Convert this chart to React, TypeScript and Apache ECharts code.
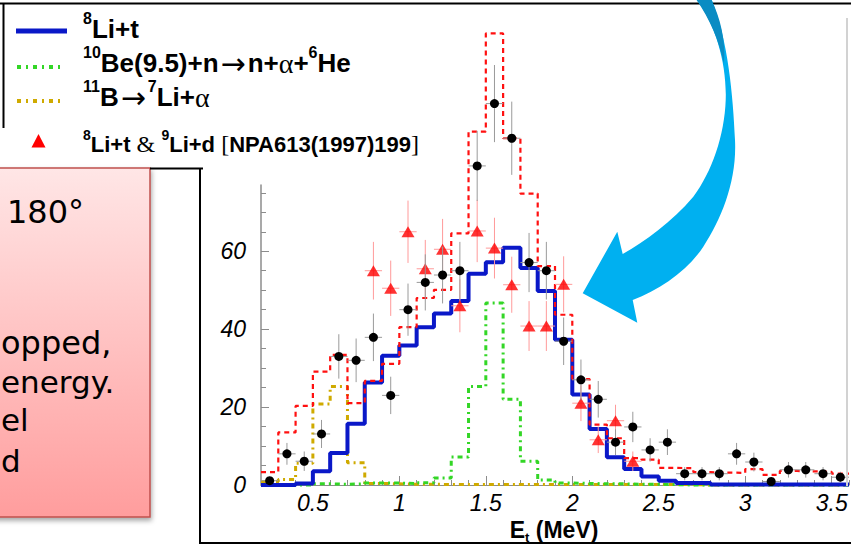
import React, { useEffect, useRef } from "react";
import * as echarts from "echarts";

// ---- data ----
const energy = [0.25, 0.35, 0.45, 0.55, 0.65, 0.75, 0.85, 0.95, 1.05, 1.15, 1.25, 1.35, 1.45, 1.55, 1.65, 1.75, 1.85, 1.95, 2.05, 2.15, 2.25, 2.35, 2.45, 2.55, 2.65, 2.75, 2.85, 2.95, 3.05, 3.15, 3.25, 3.35, 3.45, 3.55];
const fitTotal = [3.3, 13.5, 20.3, 29.1, 33.4, 21.0, 26.7, 31.1, 40.5, 48.0, 50.1, 64.6, 90.7, 115.9, 89.0, 74.8, 56.2, 43.7, 27.2, 15.5, 12.0, 6.9, 6.5, 4.4, 4.3, 3.3, 3.2, 3.1, 4.1, 2.6, 3.6, 3.5, 3.4, 2.9];
const li8t = [0, 0, 0.4, 3.5, 8.2, 15.7, 26.3, 33.2, 35.8, 40.5, 44.0, 47.2, 54.2, 57.2, 60.9, 55.7, 49.8, 37.3, 23.2, 14.4, 7.1, 4.1, 2.2, 1.1, 0.5, 0.5, 0.1, 0.1, 0.1, 0.1, 0.1, 0.1, 0.1, 0.1];
const be10 = [0, 0, 0, 0.3, 0.2, 0.3, 0.5, 0.5, 0.4, 0.6, 1.8, 7.2, 25.3, 46.7, 22.0, 6.1, 1.3, 0.5, 0.4, 0.3, 0.3, 0.2, 0.2, 0.1, 0, 0, 0, 0, 0, 0, 0, 0, 0, 0];
const b11 = [0.9, 1.4, 5.6, 20.8, 25.3, 5.7, 0.4, 0.3, 0.2, 0.2, 0.1, 0.1, 0.1, 0.1, 0.1, 0.1, 0.1, 0.1, 0.1, 0.1, 0.1, 0.1, 0.1, 0.1, 0.1, 0, 0, 0, 0, 0, 0, 0, 0, 0];
const dataCounts = [1.1, 8.0, 6.1, 13.1, 33.0, 32.0, 37.9, 23.0, 45.0, 52.0, 53.9, 55.0, 81.9, 97.9, 89.0, 57.1, 55.0, 36.9, 27.0, 22.0, 11.0, 14.9, 9.0, 11.0, 2.9, 2.9, 2.9, 8.0, 5.9, 0.9, 3.9, 3.9, 2.9, 2.0];
const dataErr = [1.0, 2.8, 2.5, 3.6, 5.7, 5.6, 6.1, 4.8, 6.7, 7.2, 7.3, 7.4, 9.0, 9.9, 9.4, 7.6, 7.4, 6.1, 5.2, 4.7, 3.3, 3.9, 3.0, 3.3, 1.7, 1.7, 1.7, 2.8, 2.4, 1.0, 2.0, 2.0, 1.7, 1.4];
const refEnergy = [0.85, 0.95, 1.05, 1.15, 1.25, 1.35, 1.45, 1.55, 1.65, 1.75, 1.85, 1.95, 2.05, 2.15, 2.25, 2.35];
const refCounts = [55.0, 50.5, 65.0, 55.5, 60.5, 46.0, 65.2, 60.8, 51.4, 40.8, 40.8, 51.5, 21.0, 11.6, 16.5, 6.1];
const refErr = [7.4, 7.1, 8.0, 7.4, 7.8, 6.8, 8.0, 7.8, 7.2, 6.4, 6.4, 7.2, 4.6, 3.4, 4.1, 2.5];
const xTickLabels = [0.5, 1, 1.5, 2, 2.5, 3, 3.5];
const xMinorTicks = [0.2, 0.3, 0.4, 0.5, 0.6, 0.7, 0.8, 0.9, 1.0, 1.1, 1.2, 1.3, 1.4, 1.5, 1.6, 1.7, 1.8, 1.9, 2.0, 2.1, 2.2, 2.3, 2.4, 2.5, 2.6, 2.7, 2.8, 2.9, 3.0, 3.1, 3.2, 3.3, 3.4, 3.5, 3.6];
const yTickLabels = [0, 20, 40, 60];
const yMinorTicks = [0, 5, 10, 15, 20, 25, 30, 35, 40, 45, 50, 55, 60, 65, 70, 75];
const BIN = 0.1;

const ARROW_D =
  "M 696.7 0 C 716 25 727 65 725.7 100 C 724.5 135 712 172 693.3 196.7 C 672 222 645 241 622.7 254 " +
  "L 617.3 231.7 L 582.7 293.3 L 637.3 322.7 L 632.7 300 " +
  "C 660 290 688 270 703.3 246.7 C 722 218 737 180 735 140 C 733 95 728 40 711.7 0 Z";
const ARROW_DARK_D = "M 696.7 0 C 710 20 719 40 724 64 C 726 40 720 18 711.7 0 Z";
echarts.graphic.registerShape("cyanArrow", echarts.graphic.extendPath(ARROW_D, {}));
echarts.graphic.registerShape("cyanArrowDark", echarts.graphic.extendPath(ARROW_DARK_D, {}));

function stepData(vals: number[]) {
  const pts = energy.map((e, i) => [e - BIN / 2, vals[i]]);
  pts.push([energy[energy.length - 1] + BIN / 2, vals[vals.length - 1]]);
  return pts;
}

function errorSeries(xs: number[], ys: number[], errs: number[], color: string, z: number) {
  return {
    type: "custom",
    clip: false,
    z,
    silent: true,
    data: xs.map((x, i) => [x, ys[i], errs[i]]),
    renderItem: (_p: any, api: any) => {
      const x = api.value(0);
      const y = api.value(1);
      const e = api.value(2);
      const top = api.coord([x, y + e]);
      const bot = api.coord([x, Math.max(0, y - e)]);
      const l = api.coord([x - BIN / 2, y]);
      const r = api.coord([x + BIN / 2, y]);
      return {
        type: "group",
        children: [
          { type: "line", shape: { x1: top[0], y1: top[1], x2: bot[0], y2: bot[1] }, style: { stroke: color, lineWidth: 1 } },
          { type: "line", shape: { x1: l[0], y1: l[1], x2: r[0], y2: r[1] }, style: { stroke: color, lineWidth: 1 } },
        ],
      };
    },
  };
}

const SANS = "'Liberation Sans', Arial, Helvetica, sans-serif";
const SERIF = "'Liberation Serif', 'Times New Roman', serif";
const ARROWFONT = "'DejaVu Sans', sans-serif";
const COMIC = "'DejaVu Sans', sans-serif";

function legendRich(size: number, lh: number, arrow: number) {
  return {
    b: { fontFamily: SANS, fontWeight: "bold", fontSize: size, lineHeight: lh, fill: "#000", verticalAlign: "middle" },
    s: { fontFamily: SANS, fontWeight: "bold", fontSize: Math.round(size * 0.62), lineHeight: Math.round(size * 0.62), fill: "#000", verticalAlign: "top" },
    y: { fontFamily: SERIF, fontWeight: "normal", fontSize: size + 2, lineHeight: lh, fill: "#000", verticalAlign: "middle" },
    a: { fontFamily: ARROWFONT, fontWeight: "normal", fontSize: arrow, lineHeight: lh, fill: "#000", verticalAlign: "middle", padding: [0, 2, 0, 2] },
  };
}

export default function App() {
  const ref = useRef<HTMLDivElement>(null);
  useEffect(() => {
    if (!ref.current) return;
    const chart = echarts.init(ref.current, undefined, { renderer: "svg" });
    const axisGray = "#8c8c8c";
    const option: any = {
      animation: false,
      backgroundColor: "#ffffff",
      grid: { left: 261, right: 2, top: 185, bottom: 61, containLabel: false },
      xAxis: [
        {
          type: "value", min: 0.2, max: 3.6, position: "bottom", offset: 0,
          axisLine: { show: true, lineStyle: { color: axisGray, width: 1 } },
          axisTick: { show: true, inside: true, length: 9, customValues: xTickLabels, lineStyle: { color: axisGray } },
          axisLabel: {
            show: true, customValues: xTickLabels, margin: 6,
            fontFamily: SANS, fontStyle: "italic", fontSize: 23, color: "#000",
            formatter: (v: number) => String(v),
          },
          splitLine: { show: false },
        },
        {
          type: "value", min: 0.2, max: 3.6, position: "bottom", offset: 0,
          axisLine: { show: false },
          axisTick: { show: true, inside: true, length: 5, customValues: xMinorTicks, lineStyle: { color: axisGray } },
          axisLabel: { show: false },
          splitLine: { show: false },
        },
      ],
      yAxis: [
        {
          type: "value", min: 0, max: 77, position: "left", offset: 0,
          axisLine: { show: true, lineStyle: { color: axisGray, width: 1.5 } },
          axisTick: { show: true, inside: true, length: 8, customValues: yTickLabels, lineStyle: { color: axisGray } },
          axisLabel: {
            show: true, customValues: yTickLabels, margin: 15,
            fontFamily: SANS, fontStyle: "italic", fontSize: 23, color: "#000",
          },
          splitLine: { show: false },
        },
        {
          type: "value", min: 0, max: 77, position: "left", offset: 0,
          axisLine: { show: false },
          axisTick: { show: true, inside: true, length: 5, customValues: yMinorTicks, lineStyle: { color: axisGray } },
          axisLabel: { show: false },
          splitLine: { show: false },
        },
      ],
      series: [
        { name: "11B", type: "line", step: "end", symbol: "none", clip: false, z: 3, silent: true, data: stepData(b11),
          lineStyle: { color: "#cfaa00", width: 3, type: [5, 4, 2, 4] } },
        { name: "10Be", type: "line", step: "end", symbol: "none", clip: false, z: 3, silent: true, data: stepData(be10),
          lineStyle: { color: "#33d626", width: 3, type: [5, 4, 2, 4] } },
        { name: "8Li+t", type: "line", step: "end", symbol: "none", clip: false, z: 4, silent: true, data: stepData(li8t),
          lineStyle: { color: "#0a18c8", width: 4 } },
        { name: "total", type: "line", step: "end", symbol: "none", clip: false, z: 5, silent: true, data: stepData(fitTotal),
          lineStyle: { color: "#ff1010", width: 2.2, type: [5, 4] } },
        errorSeries(refEnergy, refCounts, refErr, "#ff9a9a", 6),
        { name: "NPA613", type: "scatter", symbol: "triangle", symbolSize: [13, 11], clip: false, z: 7, silent: true,
          data: refEnergy.map((e, i) => [e, refCounts[i]]), itemStyle: { color: "#ff0000" } },
        errorSeries(energy, dataCounts, dataErr, "#9a9a9a", 8),
        { name: "data", type: "scatter", symbol: "circle", symbolSize: 9, clip: false, z: 9, silent: true,
          data: energy.map((e, i) => [e, dataCounts[i]]), itemStyle: { color: "#000", opacity: 1 } },
      ],
      graphic: {
        elements: [
          // frame pieces
          { type: "line", z: 50, shape: { x1: 0, y1: 3.5, x2: 851, y2: 3.5 }, style: { stroke: "#000", lineWidth: 2 } },
          { type: "line", z: 50, shape: { x1: 3.5, y1: 3, x2: 3.5, y2: 128 }, style: { stroke: "#000", lineWidth: 2 } },
          { type: "line", z: 50, shape: { x1: 847, y1: 18, x2: 847, y2: 486 }, style: { stroke: "#d2d2d2", lineWidth: 2 } },
          { type: "line", z: 50, shape: { x1: 150, y1: 168.5, x2: 203, y2: 168.5 }, style: { stroke: "#000", lineWidth: 2 } },
          { type: "line", z: 50, shape: { x1: 200, y1: 168, x2: 200, y2: 543 }, style: { stroke: "#000", lineWidth: 2 } },
          { type: "line", z: 50, shape: { x1: 199, y1: 543, x2: 851, y2: 543 }, style: { stroke: "#000", lineWidth: 2 } },
          // legend samples
          { type: "line", z: 50, shape: { x1: 16, y1: 31, x2: 67, y2: 31 }, style: { stroke: "#0a18c8", lineWidth: 5 } },
          { type: "line", z: 50, shape: { x1: 17, y1: 67, x2: 62, y2: 67 }, style: { stroke: "#33d626", lineWidth: 4, lineDash: [4, 5, 2, 5] } },
          { type: "line", z: 50, shape: { x1: 17, y1: 101, x2: 62, y2: 101 }, style: { stroke: "#cfaa00", lineWidth: 4, lineDash: [4, 5, 2, 5] } },
          { type: "polygon", z: 50, shape: { points: [[31.5, 147.5], [45.5, 147.5], [38.5, 134]] }, style: { fill: "#ff0000" } },
          // legend texts
          { type: "text", z: 50, x: 83, y: 29, style: { text: "{s|8}{b|Li+t}", rich: legendRich(26, 38, 30), verticalAlign: "middle", align: "left" } },
          { type: "text", z: 50, x: 83, y: 63, style: { text: "{s|10}{b|Be(9.5)+n}{a|→}{b|n+}{y|α}{b|+}{s|6}{b|He}", rich: legendRich(26, 38, 30), verticalAlign: "middle", align: "left" } },
          { type: "text", z: 50, x: 83, y: 97, style: { text: "{s|11}{b|B}{a|→}{s|7}{b|Li+}{y|α}", rich: legendRich(26, 38, 30), verticalAlign: "middle", align: "left" } },
          { type: "text", z: 50, x: 83, y: 144, style: { text: "{s|8}{b|Li+t }{y|&}{b| }{s|9}{b|Li+d }{y|[}{b|NPA613(1997)199}{y|]}", rich: legendRich(22, 32, 24), verticalAlign: "middle", align: "left" } },
          // pink note box
          {
            type: "rect", z: 40, shape: { x: -6, y: 168, width: 156, height: 349 },
            style: {
              fill: new echarts.graphic.LinearGradient(0, 0, 0, 1, [
                { offset: 0, color: "#ffe6e6" },
                { offset: 1, color: "#ff9d9d" },
              ]),
              stroke: "#c0504d", lineWidth: 1.5,
              shadowBlur: 5, shadowOffsetX: 1, shadowOffsetY: 3, shadowColor: "rgba(0,0,0,0.35)",
            },
          },
          { type: "text", z: 41, x: 7, y: 228, style: { text: "180°", font: `32px ${COMIC}`, fill: "#000", align: "left", verticalAlign: "bottom" } },
          { type: "text", z: 41, x: 1, y: 359, style: { text: "opped,", font: `32px ${COMIC}`, fill: "#000", align: "left", verticalAlign: "bottom" } },
          { type: "text", z: 41, x: 1, y: 397, style: { text: "energy.", font: `31px ${COMIC}`, fill: "#000", align: "left", verticalAlign: "bottom" } },
          { type: "text", z: 41, x: 1, y: 435, style: { text: "el", font: `31px ${COMIC}`, fill: "#000", align: "left", verticalAlign: "bottom" } },
          { type: "text", z: 41, x: 1, y: 476, style: { text: "d", font: `31px ${COMIC}`, fill: "#000", align: "left", verticalAlign: "bottom" } },
          // axis title
          { type: "text", z: 50, x: 554, y: 530, style: { text: "{b|E}{t|t}{b| (MeV)}", align: "center", verticalAlign: "middle",
            rich: {
              b: { fontFamily: SANS, fontWeight: "bold", fontSize: 23, lineHeight: 28, fill: "#000", verticalAlign: "middle" },
              t: { fontFamily: SANS, fontWeight: "bold", fontSize: 13, lineHeight: 13, fill: "#000", verticalAlign: "bottom" },
            } } },
          // cyan arrow
          { type: "cyanArrow", z: 60, x: 0, y: 0, style: { fill: "#00b0f0" } },
          { type: "cyanArrowDark", z: 61, x: 0, y: 0, style: { fill: "#0a8cc3" } },
        ],
      },
    };
    chart.setOption(option);
    return () => chart.dispose();
  }, []);
  return (
    <div
      ref={ref}
      style={{ position: "fixed", left: 0, top: 0, width: 851, height: 546, background: "#fff" }}
    />
  );
}
